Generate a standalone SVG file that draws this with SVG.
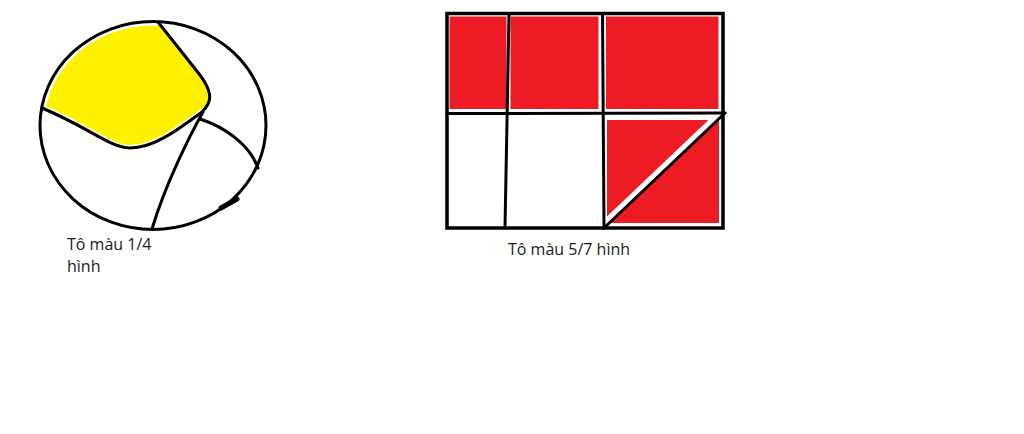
<svg xmlns="http://www.w3.org/2000/svg" width="1024" height="434" viewBox="0 0 1024 434">
<style>
.ln{fill:none;stroke:#000;stroke-width:3;stroke-linecap:round;stroke-linejoin:round}
.halo{fill:none;stroke:#fff;stroke-linecap:round}
.red{fill:#ED1C24}
.lbl{font-family:"Open Sans","Noto Sans",sans-serif;font-size:16px;fill:#1a1a1a}
</style>
<rect width="1024" height="434" fill="#fff"/>
<g id="circle-figure">
<path d="M43,108 A113 104 0 0 1 158,22 L196,70 C206,82 213,95 208,104 C206,108 204,110 202,112 C180,128 155,148 130,148 C110,148 90,128 43,108 Z" fill="#FFF200"/>
<ellipse class="halo" cx="153" cy="125.5" rx="113" ry="104" stroke-width="8"/>
<path class="halo" stroke-width="6" d="M202,112 C180,128 155,148 130,148 C110,148 90,128 43,108"/>
<ellipse class="ln" cx="153" cy="125.5" rx="113" ry="104"/>
<path class="ln" d="M158,22 L196,70 C206,82 213,95 208,104 C206,108 204,110 202,112"/>
<path class="ln" d="M202,112 C180,128 155,148 130,148 C110,148 90,128 42,108"/>
<path class="ln" d="M203,112 C190,135 165,185 152,229"/>
<path class="ln" d="M200,119 C225,127 250,145 258,168"/>
<path d="M221,208 L237,199" stroke="#000" stroke-width="5" stroke-linecap="round"/>
<text class="lbl" x="67" y="250">Tô màu 1/4</text>
<text class="lbl" x="67" y="272">hình</text>
</g>
<g id="rect-figure">
<rect class="red" x="449.5" y="16.5" width="57" height="92.5"/>
<rect class="red" x="510.5" y="16.5" width="88" height="92.5"/>
<rect class="red" x="606" y="16.5" width="112.5" height="92.5"/>
<rect class="red" x="607" y="120" width="112" height="103"/>
<line class="halo" x1="602" y1="226" x2="723" y2="111" stroke-width="7"/>
<rect x="447" y="13.5" width="276" height="214.5" fill="none" stroke="#000" stroke-width="3.5"/>
<line class="ln" x1="447" y1="113.5" x2="725" y2="113" stroke-width="3.5"/>
<line class="ln" x1="509" y1="13.5" x2="505" y2="228" stroke-width="3.5"/>
<line class="ln" x1="602.5" y1="13.5" x2="604" y2="228" stroke-width="3.5"/>
<line class="ln" x1="604" y1="228" x2="725" y2="113" stroke-width="3.5"/>
<text class="lbl" x="508" y="255">Tô màu 5/7 hình</text>
</g>
</svg>
